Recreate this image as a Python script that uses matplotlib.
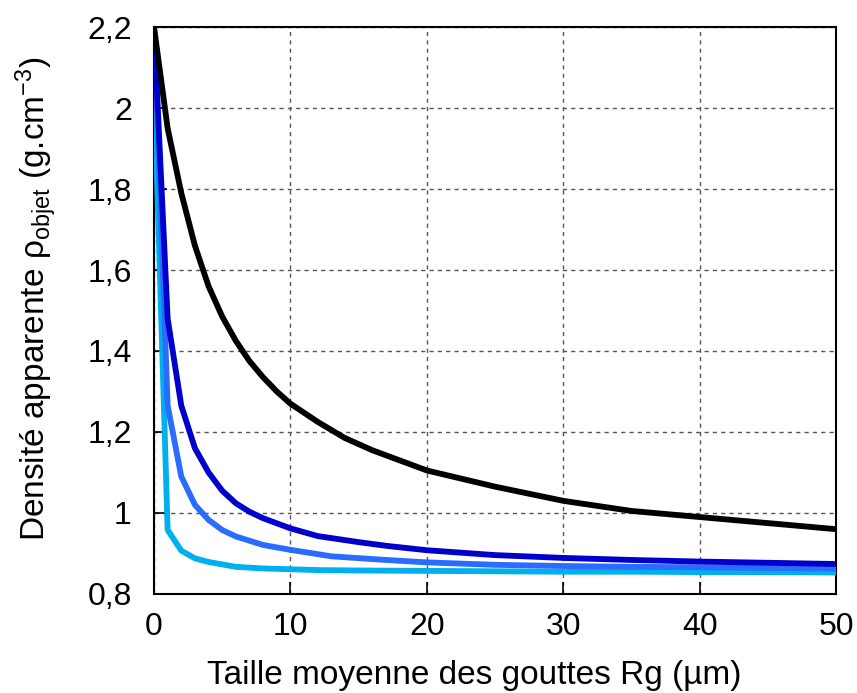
import matplotlib
matplotlib.use("Agg")
import matplotlib.pyplot as plt

plt.rcParams["font.family"] = ["Liberation Sans", "DejaVu Sans"]
plt.rcParams["mathtext.fontset"] = "custom"
plt.rcParams["mathtext.rm"] = "Liberation Sans"
plt.rcParams["mathtext.it"] = "Liberation Sans:italic"

# Rg (µm) and apparent density for each curve
x_black = [0, 1, 2, 3, 4, 5, 6, 7, 8, 9, 10, 12, 14, 16, 18, 20, 25, 30, 35, 40, 45, 50]
y_black = [2.20, 1.95, 1.79, 1.66, 1.56, 1.485, 1.425, 1.375, 1.335, 1.30, 1.27, 1.225,
           1.185, 1.155, 1.13, 1.105, 1.065, 1.03, 1.005, 0.99, 0.975, 0.96]

x_dark = [0, 1, 2, 3, 4, 5, 6, 7, 8, 10, 12, 15, 17, 20, 25, 30, 35, 40, 45, 50]
y_dark = [2.20, 1.48, 1.265, 1.16, 1.10, 1.055, 1.024, 1.003, 0.987, 0.962, 0.943, 0.928,
          0.919, 0.908, 0.896, 0.889, 0.884, 0.88, 0.877, 0.874]

x_mid = [0, 1, 2, 3, 4, 5, 6, 8, 10, 13, 17, 20, 25, 30, 35, 40, 45, 50]
y_mid = [2.20, 1.265, 1.09, 1.02, 0.983, 0.958, 0.942, 0.921, 0.909, 0.893, 0.884, 0.878,
         0.872, 0.869, 0.867, 0.866, 0.864, 0.863]

x_light = [0, 1, 2, 3, 4, 5, 6, 8, 10, 12, 15, 20, 25, 30, 35, 40, 45, 50]
y_light = [2.07, 0.958, 0.907, 0.888, 0.879, 0.873, 0.867, 0.863, 0.861, 0.859, 0.858,
           0.857, 0.856, 0.855, 0.855, 0.854, 0.854, 0.853]

x_ticks = [0, 10, 20, 30, 40, 50]
y_ticks = [0.8, 1.0, 1.2, 1.4, 1.6, 1.8, 2.0, 2.2]
y_labels = ["0,8", "1", "1,2", "1,4", "1,6", "1,8", "2", "2,2"]

fig = plt.figure(figsize=(8.57, 6.93), dpi=100)
ax = fig.add_axes([0.1797, 0.1429, 0.7958, 0.8181])

lw = 4.2
ax.plot(x_light, y_light, color="#00b0ee", lw=lw, zorder=3)
ax.plot(x_mid, y_mid, color="#2a6cff", lw=lw, zorder=4)
ax.plot(x_dark, y_dark, color="#0000cc", lw=lw, zorder=5)
ax.plot(x_black, y_black, color="black", lw=lw, zorder=6)

ax.set_xlim(0, 50)
ax.set_ylim(0.8, 2.2)
ax.set_xticks(x_ticks)
ax.set_xticklabels([str(v) for v in x_ticks])
ax.set_yticks(y_ticks)
ax.set_yticklabels(y_labels)
ax.tick_params(direction="in", length=9, width=1.2, labelsize=23)
ax.tick_params(axis="y", pad=16)
ax.tick_params(axis="x", pad=13)

ax.grid(color="#555555", linestyle=(0, (3, 3)), linewidth=1.0)
for s in ax.spines.values():
    s.set_linewidth(1.5)

ax.set_xlabel("Taille moyenne des gouttes Rg (µm)", fontsize=24)
ax.set_ylabel("Densité apparente ρ$_{\\mathrm{objet}}$ (g.cm$^{\\mathrm{-3}}$)",
              fontsize=24)
ax.xaxis.set_label_coords(0.469, -0.116)
ax.yaxis.set_label_coords(-0.139, 0.52)

fig.savefig("out.png", dpi=100)
